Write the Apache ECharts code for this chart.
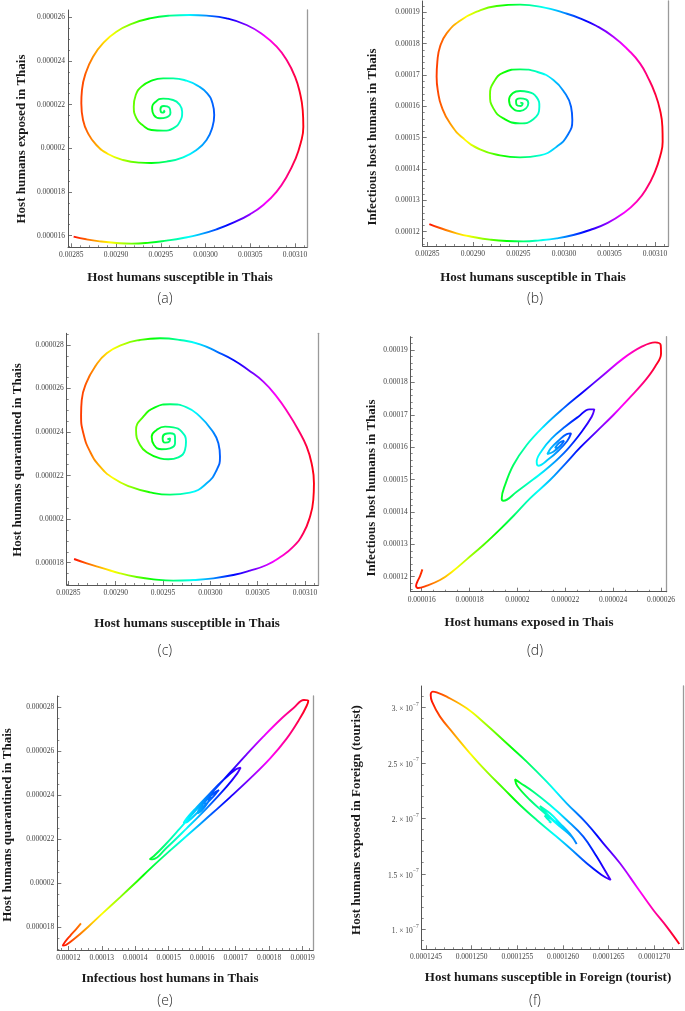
<!DOCTYPE html>
<html><head><meta charset="utf-8">
<script src="https://cdn.jsdelivr.net/npm/echarts@6/dist/echarts.min.js"></script>
<style>html,body{margin:0;padding:0;background:#fff}#c{width:685px;height:1011px}</style>
</head><body><div id="c"></div>
<script>
// ---------- DATA ----------
// (a) S vs E  (E in units of 1e-6)
const aS = [0.0028526,0.0028668,0.0028817,0.0029004,0.0029172,0.0029377,0.0029563,0.0029750,0.0029937,0.0030123,0.0030310,0.0030496,0.0030646,0.0030795,0.0030907,0.0031000,0.0031063,0.0031093,0.0031086,0.0031056,0.0031000,0.0030907,0.0030795,0.0030646,0.0030459,0.0030235,0.0030011,0.0029825,0.0029601,0.0029377,0.0029190,0.0029004,0.0028854,0.0028743,0.0028660,0.0028619,0.0028612,0.0028631,0.0028687,0.0028780,0.0028910,0.0029078,0.0029265,0.0029396,0.0029563,0.0029750,0.0029899,0.0030011,0.0030078,0.0030097,0.0030078,0.0030019,0.0029918,0.0029787,0.0029638,0.0029526,0.0029396,0.0029284,0.0029220,0.0029198,0.0029228,0.0029295,0.0029396,0.0029526,0.0029638,0.0029713,0.0029739,0.0029713,0.0029638,0.0029526,0.0029444,0.0029403,0.0029422,0.0029489,0.0029563,0.0029608,0.0029593,0.0029534,0.0029496,0.0029515,0.0029541,0.0029530];
const aE = [15.954,15.832,15.740,15.664,15.634,15.679,15.771,15.893,16.061,16.290,16.595,16.977,17.405,18.015,18.702,19.466,20.229,20.992,21.756,22.519,23.282,24.046,24.656,25.191,25.649,25.954,26.076,26.107,26.076,25.954,25.725,25.343,24.809,24.198,23.435,22.672,22.061,21.298,20.687,20.153,19.740,19.466,19.344,19.328,19.389,19.588,19.924,20.382,20.992,21.527,22.061,22.519,22.855,23.099,23.206,23.206,23.099,22.824,22.443,21.908,21.374,21.069,20.840,20.809,20.916,21.221,21.679,21.985,22.214,22.275,22.137,21.832,21.527,21.374,21.420,21.634,21.878,21.939,21.786,21.634,21.695,21.740];
// (b) S vs I  (I in units of 1e-5)
const bS = [0.0028522,0.0028639,0.0028822,0.0029005,0.0029188,0.0029371,0.0029554,0.0029737,0.0029920,0.0030103,0.0030286,0.0030469,0.0030652,0.0030799,0.0030908,0.0031000,0.0031055,0.0031084,0.0031081,0.0031055,0.0031000,0.0030927,0.0030835,0.0030707,0.0030542,0.0030359,0.0030176,0.0029993,0.0029774,0.0029518,0.0029261,0.0029042,0.0028859,0.0028712,0.0028639,0.0028610,0.0028602,0.0028617,0.0028657,0.0028749,0.0028895,0.0029078,0.0029298,0.0029518,0.0029737,0.0029920,0.0030041,0.0030092,0.0030078,0.0030012,0.0029884,0.0029701,0.0029518,0.0029335,0.0029232,0.0029188,0.0029225,0.0029335,0.0029518,0.0029664,0.0029730,0.0029701,0.0029609,0.0029518,0.0029437,0.0029397,0.0029426,0.0029518,0.0029583,0.0029609,0.0029583,0.0029518,0.0029474,0.0029481,0.0029525,0.0029547,0.0029521];
const bI = [12.245,12.117,11.947,11.830,11.745,11.702,11.692,11.724,11.787,11.894,12.053,12.266,12.585,12.958,13.383,13.915,14.394,14.872,15.351,15.883,16.415,16.894,17.372,17.798,18.223,18.564,18.809,18.989,19.160,19.245,19.202,19.021,18.734,18.330,17.904,17.426,16.947,16.468,15.989,15.458,14.979,14.628,14.436,14.372,14.436,14.713,15.085,15.564,15.989,16.415,16.840,17.106,17.181,17.075,16.787,16.362,15.936,15.617,15.458,15.585,15.989,16.287,16.458,16.489,16.415,16.202,15.968,15.851,15.936,16.096,16.223,16.255,16.170,16.043,16.011,16.096,16.117];
// (c) S vs Q  (Q in units of 1e-6)
const cS = [0.0028560,0.0028694,0.0028870,0.0029046,0.0029222,0.0029398,0.0029609,0.0029820,0.0030032,0.0030243,0.0030419,0.0030595,0.0030736,0.0030877,0.0030982,0.0031053,0.0031088,0.0031095,0.0031070,0.0031018,0.0030930,0.0030824,0.0030701,0.0030560,0.0030401,0.0030243,0.0030067,0.0029891,0.0029680,0.0029468,0.0029257,0.0029081,0.0028905,0.0028782,0.0028687,0.0028641,0.0028634,0.0028658,0.0028729,0.0028835,0.0028975,0.0029151,0.0029363,0.0029574,0.0029785,0.0029961,0.0030067,0.0030102,0.0030085,0.0030014,0.0029891,0.0029750,0.0029574,0.0029415,0.0029292,0.0029215,0.0029257,0.0029345,0.0029468,0.0029556,0.0029662,0.0029732,0.0029743,0.0029697,0.0029609,0.0029521,0.0029433,0.0029380,0.0029405,0.0029486,0.0029574,0.0029627,0.0029627,0.0029574,0.0029521,0.0029496,0.0029521,0.0029567,0.0029574,0.0029546];
const cQ = [18.168,17.969,17.740,17.510,17.341,17.234,17.173,17.204,17.280,17.433,17.632,17.893,18.245,18.735,19.348,20.113,20.879,21.645,22.564,23.329,24.095,24.861,25.626,26.315,26.851,27.311,27.694,28.031,28.230,28.306,28.230,28.031,27.617,27.005,26.239,25.473,24.784,23.942,23.100,22.410,21.874,21.492,21.231,21.124,21.216,21.645,22.257,22.870,23.482,24.095,24.707,25.136,25.274,25.136,24.707,24.095,23.406,23.023,22.793,22.747,22.839,23.176,23.559,24.018,24.217,24.248,24.095,23.789,23.406,23.207,23.253,23.482,23.789,23.942,23.911,23.712,23.513,23.559,23.712,23.666];
// (d) E (1e-6) vs I (1e-5)
const dE = [16.028,15.930,15.819,15.763,15.861,16.139,16.766,17.323,17.880,18.577,19.273,19.830,20.527,21.362,21.989,22.616,23.312,24.009,24.636,25.262,25.750,26.000,25.987,25.750,25.193,24.427,23.591,22.755,21.920,21.084,20.387,19.830,19.482,19.343,19.412,19.970,20.666,21.362,22.059,22.685,23.103,23.214,23.005,22.546,21.989,21.432,21.014,20.805,20.875,21.293,21.710,22.086,22.240,22.059,21.710,21.390,21.251,21.502,21.822,21.947,21.752,21.571,21.669];
const dI = [12.226,12.021,11.846,11.712,11.650,11.701,11.897,12.185,12.535,12.978,13.462,13.874,14.419,14.985,15.479,15.984,16.488,16.993,17.487,17.991,18.485,18.897,19.154,19.237,19.103,18.743,18.228,17.713,17.199,16.632,16.067,15.449,14.831,14.419,14.347,14.625,15.006,15.418,15.912,16.478,16.941,17.168,17.168,16.941,16.632,16.272,15.891,15.551,15.428,15.624,15.891,16.200,16.426,16.406,16.200,15.963,15.788,15.860,16.067,16.200,16.138,15.984,15.994];
// (e) I (1e-5) vs Q (1e-6)
const eI = [12.378,12.229,12.050,11.900,11.831,11.930,12.199,12.597,13.045,13.543,14.041,14.489,15.037,15.634,16.232,16.829,17.427,18.024,18.522,18.920,19.119,19.169,19.040,18.721,18.323,17.825,17.327,16.829,16.331,15.833,15.336,14.888,14.559,14.439,14.519,14.937,15.535,16.132,16.730,17.048,17.148,17.009,16.630,16.232,15.833,15.535,15.445,15.555,15.933,16.282,16.481,16.501,16.361,16.082,15.883,15.863,15.983,16.182,16.252,16.172,16.052,16.102];
const eQ = [18.182,17.909,17.606,17.333,17.167,17.197,17.500,18.030,18.667,19.363,20.075,20.727,21.485,22.288,23.091,23.909,24.757,25.667,26.576,27.500,28.061,28.303,28.333,27.955,27.424,26.667,25.864,25.030,24.197,23.364,22.500,21.742,21.242,21.106,21.091,21.621,22.500,23.409,24.394,25.000,25.258,25.182,24.697,24.091,23.455,22.954,22.742,22.788,23.333,23.864,24.212,24.242,24.121,23.712,23.303,23.182,23.303,23.712,23.939,23.848,23.636,23.667];
// (f) Sf vs Ef (both in units of 1e-7)
const fS = [1272.737,1271.350,1269.890,1268.066,1266.241,1264.416,1262.591,1260.401,1258.212,1256.022,1253.832,1251.642,1249.453,1247.263,1246.168,1245.730,1245.511,1245.657,1246.533,1247.993,1249.818,1251.642,1253.467,1255.292,1257.117,1258.942,1260.766,1262.591,1264.233,1265.219,1264.781,1263.686,1262.226,1260.401,1258.577,1256.752,1255.292,1254.745,1255.000,1256.387,1258.212,1259.671,1260.949,1261.496,1260.766,1259.671,1258.577,1257.664,1257.482,1257.920,1258.942,1260.036,1259.489,1257.993,1258.212,1258.723,1258.467];
const fE = [0.868,1.024,1.174,1.384,1.595,1.775,1.955,2.135,2.330,2.511,2.676,2.841,2.991,3.096,3.135,3.141,3.111,3.051,2.916,2.766,2.586,2.420,2.270,2.120,1.985,1.859,1.730,1.595,1.490,1.444,1.505,1.655,1.835,1.985,2.120,2.240,2.321,2.351,2.291,2.165,2.030,1.925,1.835,1.769,1.859,1.955,2.045,2.099,2.111,2.066,1.985,1.904,1.955,2.024,2.003,1.961,1.973];

// tick values
const sThaiTicks = [0.00285,0.0029,0.00295,0.003,0.00305,0.0031];
const eThaiTicks = [0.000016,0.000018,0.00002,0.000022,0.000024,0.000026];
const iThaiTicks = [0.00012,0.00013,0.00014,0.00015,0.00016,0.00017,0.00018,0.00019];
const qThaiTicks = [0.000018,0.00002,0.000022,0.000024,0.000026,0.000028];
const sForTicks = [0.0001245,0.000125,0.0001255,0.000126,0.0001265,0.000127];
const eForTicks = [1e-7,1.5e-7,2e-7,2.5e-7,3e-7];

// ---------- BUILD ----------
function zip(xs, ys, kx, ky) { const n = Math.min(xs.length, ys.length); const out = []; for (let i = 0; i < n; i++) out.push([xs[i]*kx, ys[i]*ky]); return out; }
function minor(major, lo, hi, n) {
  const st = (major[1]-major[0])/n, out = [];
  for (let k = -200; k <= 200; k++) { const v = major[0] + k*st; if (v >= lo && v <= hi && Math.abs(k % n) !== 0) out.push(v); }
  return out;
}
const fix = d => (v => v.toFixed(d));
const plain = v => String(v);
const sciFmt = v => { const m = Math.round(v/1e-7*10)/10; const s = Number.isInteger(m) ? m + '.' : String(m); return '{m|' + s + ' \u00d7 10}{e|\u22127}'; };

const panels = [
  {grid:{left:68,top:10,width:239,height:237.3}, xr:[0.0028463,0.0031134], yr:[15.466e-6,26.336e-6], xt:sThaiTicks, yt:eThaiTicks, xn:5, yn:4, xf:fix(5), yf:plain, sm:0.5,
   data:zip(aS,aE,1,1e-6), xName:'Host humans susceptible in Thais', yName:'Host humans exposed in Thais', xp:[180,278], yp:[22,139], cap:'(a)', cp:[165,299]},
  {grid:{left:422.7,top:1,width:245.6,height:245}, xr:[0.0028449,0.0031146], yr:[11.543e-5,19.362e-5], xt:sThaiTicks, yt:iThaiTicks, xn:5, yn:5, xf:fix(5), yf:fix(5), sm:0.5,
   data:zip(bS,bI,1,1e-5), xName:'Host humans susceptible in Thais', yName:'Infectious host humans in Thais', xp:[533,278], yp:[373,137], cap:'(b)', cp:[535,299]},
  {grid:{left:66.7,top:333.3,width:251.6,height:251.7}, xr:[0.0028482,0.0031141], yr:[16.974e-6,28.536e-6], xt:sThaiTicks, yt:qThaiTicks, xn:5, yn:4, xf:fix(5), yf:plain, sm:0.5,
   data:zip(cS,cQ,1,1e-6), xName:'Host humans susceptible in Thais', yName:'Host humans quarantined in Thais', xp:[187,624], yp:[18,460], cap:'(c)', cp:[165,651]},
  {grid:{left:410.7,top:336.7,width:256,height:255}, xr:[15.540e-6,26.237e-6], yr:[11.537e-5,19.412e-5], xt:eThaiTicks, yt:iThaiTicks, xn:4, yn:5, xf:plain, yf:fix(5), sm:0.4,
   data:zip(dE,dI,1e-6,1e-5), xName:'Host humans exposed in Thais', yName:'Infectious host humans in Thais', xp:[529,623], yp:[372,488], cap:'(d)', cp:[535,651]},
  {grid:{left:57.3,top:696,width:256,height:254}, xr:[11.671e-5,19.319e-5], yr:[16.970e-6,28.515e-6], xt:iThaiTicks, yt:qThaiTicks, xn:5, yn:4, xf:fix(5), yf:plain, sm:0.4,
   data:zip(eI,eQ,1e-5,1e-6), xName:'Infectious host humans in Thais', yName:'Host humans quarantined in Thais', xp:[170,979], yp:[8,825], cap:'(e)', cp:[165,1001]},
  {grid:{left:421.7,top:686,width:261.6,height:263.3}, xr:[1244.526e-7,1273.175e-7], yr:[0.8198e-7,3.192e-7], xt:sForTicks, yt:eForTicks, xn:5, yn:5, xf:fix(7), yf:sciFmt, sm:0.4,
   data:zip(fS,fE,1e-7,1e-7), xName:'Host humans susceptible in Foreign (tourist)', yName:'Host humans exposed in Foreign (tourist)', xp:[548,978], yp:[357,820], cap:'(f)', cp:[535,1001]}
];

const HUE = ['#ff0000','#ffff00','#00ff00','#00ffff','#0000ff','#ff00ff','#ff0000'];
const hueGrad = () => ({type:'linear', x:0, y:0, x2:1, y2:0, global:false,
  colorStops: HUE.map((c,i) => ({offset:i/(HUE.length-1), color:c}))});

const AX = '#555';
const labelBase = {fontFamily:'Liberation Serif', fontSize:7.5, color:'#444', hideOverlap:false};
const grids = [], xAxes = [], yAxes = [], series = [], graphics = [];
panels.forEach((p, i) => {
  grids.push(Object.assign({outerBoundsMode:'none', containLabel:false, show:false}, p.grid));
  xAxes.push({type:'value', gridIndex:i, min:p.xr[0], max:p.xr[1], position:'bottom',
    axisLine:{show:true, onZero:false, lineStyle:{color:AX, width:1}}, splitLine:{show:false},
    axisTick:{show:true, inside:true, length:4, customValues:p.xt, lineStyle:{color:AX, width:0.8}},
    axisLabel:Object.assign({customValues:p.xt, formatter:p.xf, margin:4}, labelBase)});
  xAxes.push({type:'value', gridIndex:i, min:p.xr[0], max:p.xr[1], position:'bottom',
    axisLine:{show:false, onZero:false}, splitLine:{show:false},
    axisTick:{show:true, inside:true, length:2, customValues:minor(p.xt, p.xr[0], p.xr[1], p.xn), lineStyle:{color:AX, width:0.7}},
    axisLabel:{show:false}});
  yAxes.push({type:'value', gridIndex:i, min:p.yr[0], max:p.yr[1], position:'left',
    axisLine:{show:true, onZero:false, lineStyle:{color:AX, width:1}}, splitLine:{show:false},
    axisTick:{show:true, inside:true, length:4, customValues:p.yt, lineStyle:{color:AX, width:0.8}},
    axisLabel:Object.assign({customValues:p.yt, formatter:p.yf, margin:3,
      rich:{m:{fontFamily:'Liberation Serif', fontSize:7.5, color:'#444', lineHeight:12, verticalAlign:'bottom'},
            e:{fontFamily:'Liberation Serif', fontSize:5.5, color:'#444', lineHeight:7, verticalAlign:'top'}}}, labelBase)});
  yAxes.push({type:'value', gridIndex:i, min:p.yr[0], max:p.yr[1], position:'left',
    axisLine:{show:false, onZero:false}, splitLine:{show:false},
    axisTick:{show:true, inside:true, length:2, customValues:minor(p.yt, p.yr[0], p.yr[1], p.yn), lineStyle:{color:AX, width:0.7}},
    axisLabel:{show:false}});
  yAxes.push({type:'value', gridIndex:i, min:p.yr[0], max:p.yr[1], position:'right',
    axisLine:{show:true, onZero:false, lineStyle:{color:'#9a9a9a', width:1.3}}, splitLine:{show:false},
    axisTick:{show:false}, axisLabel:{show:false}});
  series.push({type:'line', xAxisIndex:2*i, yAxisIndex:3*i, data:p.data, symbol:'none', showSymbol:false,
    smooth:p.sm, clip:false, silent:true, animation:false, lineStyle:{width:1.9, color:hueGrad()}});
  const tStyle = {font:'bold 13px "Liberation Serif"', fill:'#1a1a1a', align:'center', verticalAlign:'middle', textAlign:'center', textVerticalAlign:'middle'};
  graphics.push({type:'text', x:p.xp[0], y:p.xp[1], silent:true, style:Object.assign({text:p.xName}, tStyle)});
  graphics.push({type:'text', x:p.yp[0], y:p.yp[1], rotation:Math.PI/2, silent:true, style:Object.assign({text:p.yName}, tStyle)});
  graphics.push({type:'text', x:p.cp[0], y:p.cp[1], silent:true, style:{text:p.cap, font:'300 14px "Open Sans"', fill:'#2a2a2a', align:'center', verticalAlign:'middle', textAlign:'center', textVerticalAlign:'middle'}});
});

const chart = echarts.init(document.getElementById('c'), null, {renderer:'canvas', width:685, height:1011});
chart.setOption({backgroundColor:'#ffffff', animation:false, grid:grids, xAxis:xAxes, yAxis:yAxes, series:series, graphic:graphics});
</script></body></html>
